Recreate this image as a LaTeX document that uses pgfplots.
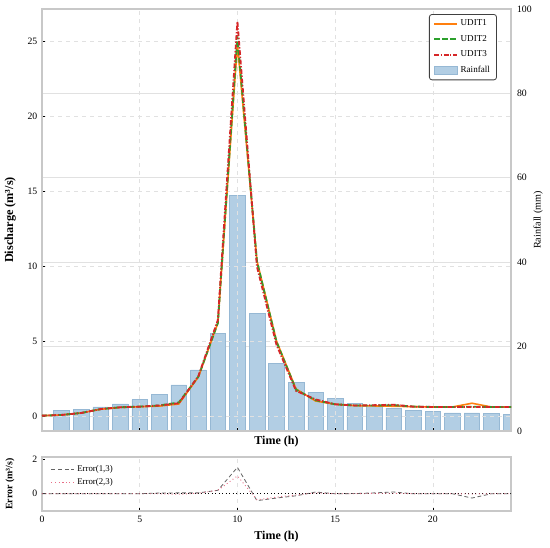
\documentclass[border=0pt]{standalone}
\usepackage{fontspec}
\setmainfont{Liberation Serif}
\usepackage{pgfplots}
\pgfplotsset{compat=1.18}
\usepackage{pgfplotstable}

\definecolor{cone}{HTML}{FF7F0E}
\definecolor{ctwo}{HTML}{2CA02C}
\definecolor{cthree}{HTML}{D62728}
\definecolor{barfill}{RGB}{178,206,228}
\definecolor{baredge}{RGB}{150,184,212}
\definecolor{frame}{RGB}{200,200,200}
\definecolor{gridc}{RGB}{225,225,225}
\definecolor{errgray}{RGB}{100,100,100}
\definecolor{errpink}{RGB}{232,110,135}

\pgfplotstableread{
t rain
1 4.8
2 5.2
3 5.7
4 6.4
5 7.4
6 8.7
7 10.9
8 14.5
9 23.2
10 55.9
11 27.8
12 16.0
13 11.5
14 9.2
15 7.7
16 6.6
17 6.0
18 5.4
19 4.8
20 4.6
21 4.3
22 4.3
23 4.1
24 3.9
}\rain

\pgfplotstableread{
t q1 q2 q3
0 0.02 0.02 0.02
1 0.07 0.07 0.07
2 0.20 0.20 0.20
3 0.45 0.46 0.46
4 0.57 0.58 0.58
5 0.62 0.63 0.62
6 0.66 0.70 0.70
7 0.80 0.90 0.85
8 2.60 2.62 2.65
9 6.20 6.20 6.40
10 24.80 25.30 26.30
11 10.35 10.30 9.95
12 5.00 4.95 4.75
13 1.80 1.75 1.68
14 1.00 1.05 1.10
15 0.78 0.78 0.78
16 0.69 0.70 0.70
17 0.67 0.70 0.72
18 0.65 0.72 0.75
19 0.62 0.63 0.62
20 0.60 0.60 0.60
21 0.60 0.60 0.60
22 0.85 0.62 0.60
23 0.60 0.60 0.60
24 0.60 0.60 0.60
}\disch

\pgfplotstableread{
t e13 e23
0 0.00 0.00
1 0.00 0.00
2 0.00 0.00
3 0.00 0.00
4 0.00 0.00
5 0.00 0.00
6 0.04 0.00
7 0.05 -0.03
8 0.05 0.03
9 0.20 0.20
10 1.53 1.03
11 -0.40 -0.35
12 -0.25 -0.20
13 -0.12 -0.07
14 0.10 0.05
15 0.00 0.00
16 0.01 0.00
17 0.05 0.02
18 0.10 0.03
19 0.00 0.00
20 0.00 0.00
21 0.00 0.00
22 -0.25 -0.02
23 0.00 0.00
24 0.00 0.00
}\err

\begin{document}
\begin{tikzpicture}
\useasboundingbox (0pt,0pt) rectangle (412.5pt,411pt);

% Rainfall (right axis) - drawn first, behind
\begin{axis}[
  at={(31.5pt,87.75pt)}, anchor=south west, scale only axis,
  width=351.75pt, height=316.5pt,
  xmin=0, xmax=24, ymin=0, ymax=100,
  axis x line=none, axis y line*=right,
  axis line style={frame, line width=0.8pt},
  ytick={0,20,40,60,80,100},
  major tick length=0pt,
  ymajorgrids, grid style={solid, gridc, line width=0.9pt},
  tick label style={font=\fontsize{7.3}{8}\selectfont},
  /pgf/number format/assume math mode=true,
  yticklabel style={xshift=1pt},
  ylabel={Rainfall (mm)},
  ylabel style={font=\fontsize{7.6}{9}\selectfont, at={(axis description cs:1.058,0.5)}, anchor=center},
]
\addplot[ybar, bar width=0.8, fill=barfill, draw=baredge, line width=0.4pt] table[x=t,y=rain]{\rain};
\end{axis}

% Discharge (left axis)
\begin{axis}[
  at={(31.5pt,87.75pt)}, anchor=south west, scale only axis,
  width=351.75pt, height=316.5pt,
  xmin=0, xmax=24, ymin=-1, ymax=27.13,
  axis line style={frame, line width=0.8pt},
  xtick={0,5,10,15,20}, xticklabels={},
  ytick={0,5,10,15,20,25},
  xtick pos=bottom, ytick pos=left,
  tick align=inside, major tick length=2.2pt,
  every tick/.style={black, line width=0.5pt},
  grid=major, grid style={dashed, gridc, line width=0.4pt},
  tick label style={font=\fontsize{7.3}{8}\selectfont},
  /pgf/number format/assume math mode=true,
  ylabel={\textbf{Discharge (m³/s)}},
  ylabel style={font=\fontsize{9.2}{10}\selectfont, at={(axis description cs:-0.068,0.5)}, anchor=center},
  xlabel={\textbf{Time (h)}},
  xlabel style={font=\fontsize{9}{10}\selectfont, at={(axis description cs:0.5,-0.024)}, anchor=center},
  legend style={at={(axis description cs:0.97,0.988)}, anchor=north east,
    draw=black!75, line width=0.6pt, rounded corners=2pt, fill=white,
    font=\fontsize{6.8}{8}\selectfont, row sep=1.6pt, inner xsep=3pt, inner ysep=2pt},
  legend cell align=left,
]
\addplot[cone, line width=1.2pt] table[x=t,y=q1]{\disch};
\addlegendentry{UDIT1}
\addplot[ctwo, line width=1.4pt, dash pattern=on 4pt off 2pt] table[x=t,y=q2]{\disch};
\addlegendentry{UDIT2}
\addplot[cthree, line width=1.4pt, dash pattern=on 3.5pt off 1.3pt on 1pt off 1.3pt] table[x=t,y=q3]{\disch};
\addlegendentry{UDIT3}
\addlegendimage{area legend, fill=barfill, draw=baredge, sharp corners, line width=0.4pt}
\addlegendentry{Rainfall}
\end{axis}

% Error axis
\begin{axis}[
  at={(31.5pt,27.75pt)}, anchor=south west, scale only axis,
  width=351.75pt, height=40.5pt,
  xmin=0, xmax=24, ymin=-1, ymax=2.13,
  axis line style={frame, line width=0.8pt},
  xtick={0,5,10,15,20}, ytick={0,2},
  xtick pos=bottom, ytick pos=left,
  tick align=inside, major tick length=2.2pt,
  every tick/.style={black, line width=0.5pt},
  xmajorgrids, grid style={dashed, gridc, line width=0.4pt},
  tick label style={font=\fontsize{7.3}{8}\selectfont},
  /pgf/number format/assume math mode=true,
  ylabel={\textbf{Error (m³/s)}},
  ylabel style={font=\fontsize{7.4}{9}\selectfont, at={(axis description cs:-0.068,0.5)}, anchor=center},
  xlabel={\textbf{Time (h)}},
  xlabel style={font=\fontsize{9}{10}\selectfont, at={(axis description cs:0.5,-0.48)}, anchor=center},
  legend style={at={(axis description cs:0.01,0.95)}, anchor=north west,
    draw=none, fill=none, font=\fontsize{6.6}{8}\selectfont, row sep=0pt},
  legend cell align=left,
]
\addplot[black, line width=0.6pt, dotted, forget plot] coordinates {(0,0) (24,0)};
\addplot[errgray, line width=0.6pt, dash pattern=on 3pt off 2pt] table[x=t,y=e13]{\err};
\addlegendentry{Error(1,3)}
\addplot[errpink, line width=0.7pt, dotted] table[x=t,y=e23]{\err};
\addlegendentry{Error(2,3)}
\end{axis}
\end{tikzpicture}
\end{document}
